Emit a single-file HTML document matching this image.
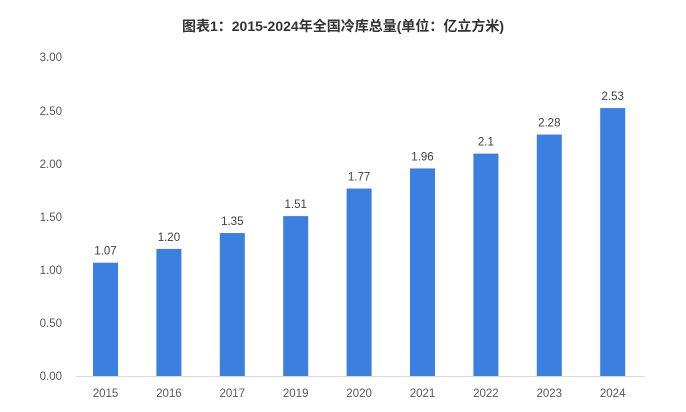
<!DOCTYPE html>
<html><head><meta charset="utf-8"><style>
body{margin:0;background:#fff;}
svg text{font-family:"Liberation Sans","Noto Sans CJK SC",sans-serif;}
</style></head><body>
<svg width="686" height="407" xmlns="http://www.w3.org/2000/svg">
<text x="343" y="31" text-anchor="middle" font-size="14" font-weight="bold" fill="#333">图表1：2015-2024年全国冷库总量(单位：亿立方米)</text>
<g font-size="11.5" fill="#595959" text-anchor="end">
<text x="62" y="380">0.00</text>
<text x="62" y="327">0.50</text>
<text x="62" y="274">1.00</text>
<text x="62" y="221">1.50</text>
<text x="62" y="168">2.00</text>
<text x="62" y="115">2.50</text>
<text x="62" y="61">3.00</text>
</g>
<line x1="76" y1="376.5" x2="645" y2="376.5" stroke="#d9d9d9" stroke-width="1"/>
<g fill="#3b7fe0" id="bars"></g>
<g id="labels" font-size="11.5" fill="#404040" text-anchor="middle"></g>
<script>
var years=["2015","2016","2017","2019","2020","2021","2022","2023","2024"];
var vals=[1.07,1.20,1.35,1.51,1.77,1.96,2.1,2.28,2.53];
var lbl=["1.07","1.20","1.35","1.51","1.77","1.96","2.1","2.28","2.53"];
var b=document.getElementById("bars"),l=document.getElementById("labels"),ns="http://www.w3.org/2000/svg";
for(var i=0;i<9;i++){var cx=105.5+i*63.4;var h=vals[i]*105.9;
var r=document.createElementNS(ns,"rect");r.setAttribute("x",cx-12.5);r.setAttribute("y",376-h);r.setAttribute("width",25);r.setAttribute("height",h);b.appendChild(r);
var t=document.createElementNS(ns,"text");t.setAttribute("x",cx);t.setAttribute("y",376-h-8);t.textContent=lbl[i];l.appendChild(t);
var y=document.createElementNS(ns,"text");y.setAttribute("x",cx);y.setAttribute("y",397);y.setAttribute("fill","#595959");y.textContent=years[i];l.appendChild(y);}
</script>
</svg>
</body></html>
